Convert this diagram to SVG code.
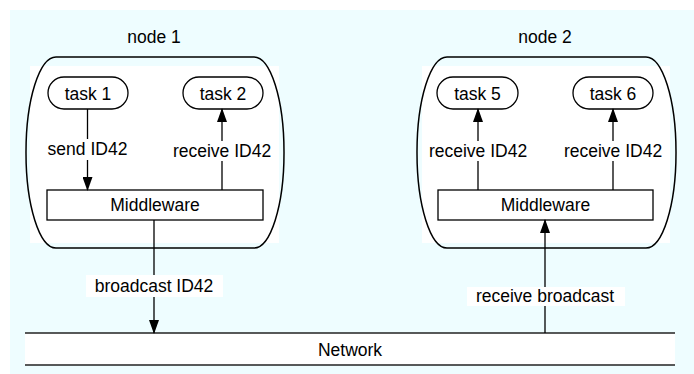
<svg xmlns="http://www.w3.org/2000/svg" width="694" height="374" viewBox="0 0 694 374">
<defs>
<style>
text{font-family:"Liberation Sans",Arial,sans-serif;font-size:17.5px;fill:#000;text-anchor:middle}
.outline{fill:none;stroke:#000;stroke-width:1.5}
.task{fill:#fff;stroke:#000;stroke-width:1.3}
.box{fill:#fff;stroke:#000;stroke-width:1.3}
.line{fill:none;stroke:#000;stroke-width:1.3}
.lbl{fill:#fff}
</style>
<marker id="ah" viewBox="0 0 14 10" refX="13" refY="5" markerWidth="14" markerHeight="10" markerUnits="userSpaceOnUse" orient="auto">
<path d="M0,0 L14,5 L0,10 Z" fill="#000"/>
</marker>
</defs>
<rect x="10" y="10" width="684" height="364" fill="#eefdff"/>

<g id="network">
<rect x="25" y="333" width="650" height="32" fill="#fff"/>
<line x1="25" y1="333" x2="675" y2="333" stroke="#222" stroke-width="1.6"/>
<line x1="25" y1="365" x2="675" y2="365" stroke="#222" stroke-width="1.6"/>
<text x="350" y="356">Network</text>
</g>

<g id="node1">
<rect x="30" y="66" width="249" height="177" fill="#fff"/>
<rect class="outline" x="26" y="57" width="258" height="191" rx="30" ry="95"/>
<text x="154" y="43">node 1</text>
</g>
<g id="task1">
<rect class="task" x="48" y="77" width="80" height="32" rx="16" ry="16"/>
<text x="88" y="100">task 1</text>
</g>
<g id="task2">
<rect class="task" x="183" y="77" width="80" height="32" rx="16" ry="16"/>
<text x="223" y="100">task 2</text>
</g>
<g id="mw1">
<rect class="box" x="47" y="190" width="216" height="30"/>
<text x="155" y="211">Middleware</text>
</g>

<g id="node2">
<rect x="422" y="66" width="248" height="177" fill="#fff"/>
<rect class="outline" x="417" y="57" width="259" height="191" rx="30" ry="95"/>
<text x="545" y="43">node 2</text>
</g>
<g id="task5">
<rect class="task" x="437" y="77" width="81" height="32" rx="16" ry="16"/>
<text x="477.5" y="100">task 5</text>
</g>
<g id="task6">
<rect class="task" x="573" y="77" width="80" height="32" rx="16" ry="16"/>
<text x="613" y="100">task 6</text>
</g>
<g id="mw2">
<rect class="box" x="438" y="190" width="215" height="30"/>
<text x="545.5" y="211">Middleware</text>
</g>

<g id="connectors">
<line class="line" x1="87.5" y1="109" x2="87.5" y2="190" marker-end="url(#ah)"/>
<rect class="lbl" x="46" y="139" width="83" height="21"/>
<text x="87.5" y="155">send ID42</text>

<line class="line" x1="222" y1="190" x2="222" y2="109" marker-end="url(#ah)"/>
<rect class="lbl" x="172" y="141" width="100" height="20"/>
<text x="222" y="157">receive ID42</text>

<line class="line" x1="478" y1="190" x2="478" y2="109" marker-end="url(#ah)"/>
<rect class="lbl" x="428" y="141" width="100" height="20"/>
<text x="478" y="157">receive ID42</text>

<line class="line" x1="613" y1="190" x2="613" y2="109" marker-end="url(#ah)"/>
<rect class="lbl" x="563" y="141" width="100" height="20"/>
<text x="613" y="157">receive ID42</text>

<line class="line" x1="154" y1="220" x2="154" y2="333" marker-end="url(#ah)"/>
<rect class="lbl" x="86" y="275" width="137" height="22"/>
<text x="154" y="292">broadcast ID42</text>

<line class="line" x1="545" y1="333" x2="545" y2="220" marker-end="url(#ah)"/>
<rect class="lbl" x="467" y="287" width="158" height="19"/>
<text x="545" y="302">receive broadcast</text>
</g>
</svg>
